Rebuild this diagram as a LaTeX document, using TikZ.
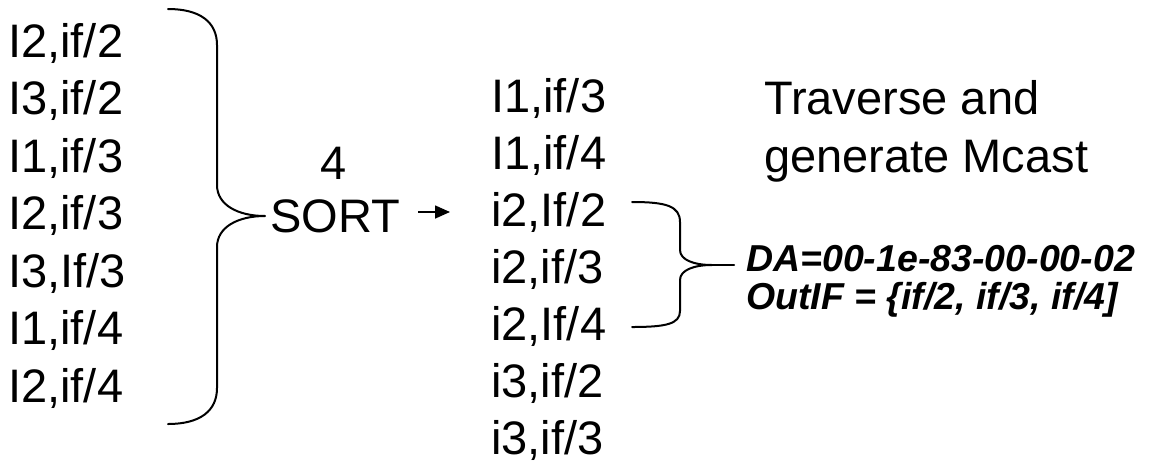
\documentclass[tikz,border=0pt]{standalone}
\usepackage{fontspec}
\setmainfont{Liberation Sans}
\usetikzlibrary{arrows.meta}
\tikzset{
  entry/.style={anchor=base west, inner sep=0pt, font=\fontsize{47}{56}\selectfont},
  note/.style={anchor=base west, inner sep=0pt, font=\fontsize{37.5}{42}\selectfont\bfseries\itshape},
  brace/.style={line width=2pt, line cap=round, line join=round}
}
\begin{document}
\begin{tikzpicture}[x=1pt,y=-1pt, >={Triangle[length=15pt,width=13pt]}]
  \useasboundingbox (0,0) rectangle (1153,464);
  % entries before sorting
  \foreach \t [count=\i] in {{I2,if/2},{I3,if/2},{I1,if/3},{I2,if/3},{I3,If/3},{I1,if/4},{I2,if/4}}
    \node[entry] (l\i) at (8,{57.5*\i-0.5}) {\t};
  % entries after sorting
  \foreach \t [count=\i] in {{I1,if/3},{I1,if/4},{i2,If/2},{i2,if/3},{i2,If/4},{i3,if/2},{i3,if/3}}
    \node[entry] (r\i) at (491,{57*\i+55}) {\t};
  \node[entry, anchor=base] (cnt) at (334,179) {4};
  \node[entry] (sort) at (270,232) {SORT};
  \node[entry] (trav) at (764,114.5) {Traverse and};
  \node[entry] (gen) at (764,172) {generate Mcast};
  \node[note] (da) at (746,271) {DA=00-1e-83-00-00-02};
  \node[note] (outif) at (746,309) {OutIF = \{if/2, if/3, if/4]};
  % arrow out of the sort
  \coordinate (a0) at (418,212);
  \coordinate (a1) at (450,212);
  \draw[line width=1.6pt, ->] (a0) -- (a1);
  % big brace round the input list
  \coordinate (ltip) at (265,216);
  \draw[brace] (168,9) .. controls (200,9) and (217,22) .. (217,45) -- (217,185)
    .. controls (217,205) and (238,216) .. (ltip)
    .. controls (238,216) and (217,227) .. (217,247) -- (217,388)
    .. controls (217,411) and (200,424) .. (168,424);
  % small brace round the i2 entries
  \coordinate (rtip) at (712,265);
  \draw[brace] (632,202) .. controls (666,202) and (680,206) .. (680,222) -- (680,250)
    .. controls (680,260) and (694,265) .. (rtip)
    .. controls (694,265) and (680,270) .. (680,280) -- (680,311)
    .. controls (680,324) and (666,327) .. (632,327);
  \draw[brace] (rtip) -- ([xshift=-12pt]da.base west |- rtip);
\end{tikzpicture}
\end{document}
